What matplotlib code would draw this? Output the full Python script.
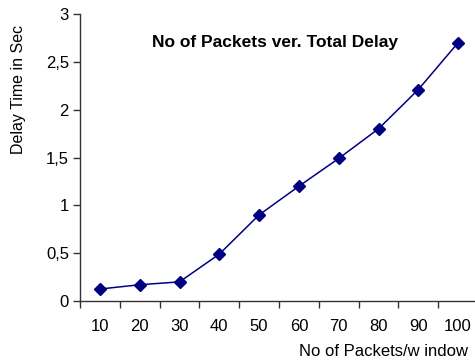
import matplotlib.pyplot as plt
from matplotlib.ticker import FuncFormatter, MultipleLocator

plt.rcParams['font.family'] = ['Liberation Sans', 'DejaVu Sans']

# packets per window and the measured total delay (seconds)
packets = ['10', '20', '30', '40', '50', '60', '70', '80', '90', '100']
delay = [0.125, 0.17, 0.2, 0.49, 0.9, 1.2, 1.49, 1.8, 2.21, 2.7]

fig = plt.figure(figsize=(4.75, 3.62), dpi=100)
ax = fig.add_axes([80 / 475, 61 / 362, 398 / 475, 287 / 362])

xs = list(range(1, len(packets) + 1))
ax.plot(xs, delay, color='#000080', lw=1.1, marker='D', markersize=6,
        markerfacecolor='#000080', markeredgecolor='#000080', clip_on=False)

ax.set_xlim(0.5, len(packets) + 0.5)
ax.set_ylim(0, 3)
ax.yaxis.set_major_locator(MultipleLocator(0.5))
ax.yaxis.set_major_formatter(FuncFormatter(lambda v, p: ('%g' % v).replace('.', ',')))

# category labels sit between the tick marks, like a spreadsheet chart
ax.set_xticks([x + 0.5 for x in range(len(packets) + 1)])
ax.set_xticklabels([])
ax.set_xticks(xs, minor=True)
ax.set_xticklabels(packets, minor=True)
ax.tick_params(axis='x', which='minor', length=0, pad=13, labelsize=12)
ax.tick_params(axis='x', which='major', length=5, width=1, color='#333333')
ax.tick_params(axis='y', length=5, width=1, color='#333333', labelsize=12, pad=3)

for s in ['top', 'right']:
    ax.spines[s].set_visible(False)
for s in ['left', 'bottom']:
    ax.spines[s].set_color('#333333')
    ax.spines[s].set_linewidth(1)

fig.text(275 / 475, 1 - 42 / 362, 'No of Packets ver. Total Delay', ha='center', va='center',
         fontsize=12.5, fontweight='bold')
fig.text(468 / 475, 1 - 352 / 362, 'No of Packets/w indow', ha='right', va='center', fontsize=12)
fig.text(19 / 475, 1 - 89 / 362, 'Delay Time in Sec', ha='center', va='center',
         rotation=90, fontsize=11.5)

fig.savefig('out.png', dpi=100)
